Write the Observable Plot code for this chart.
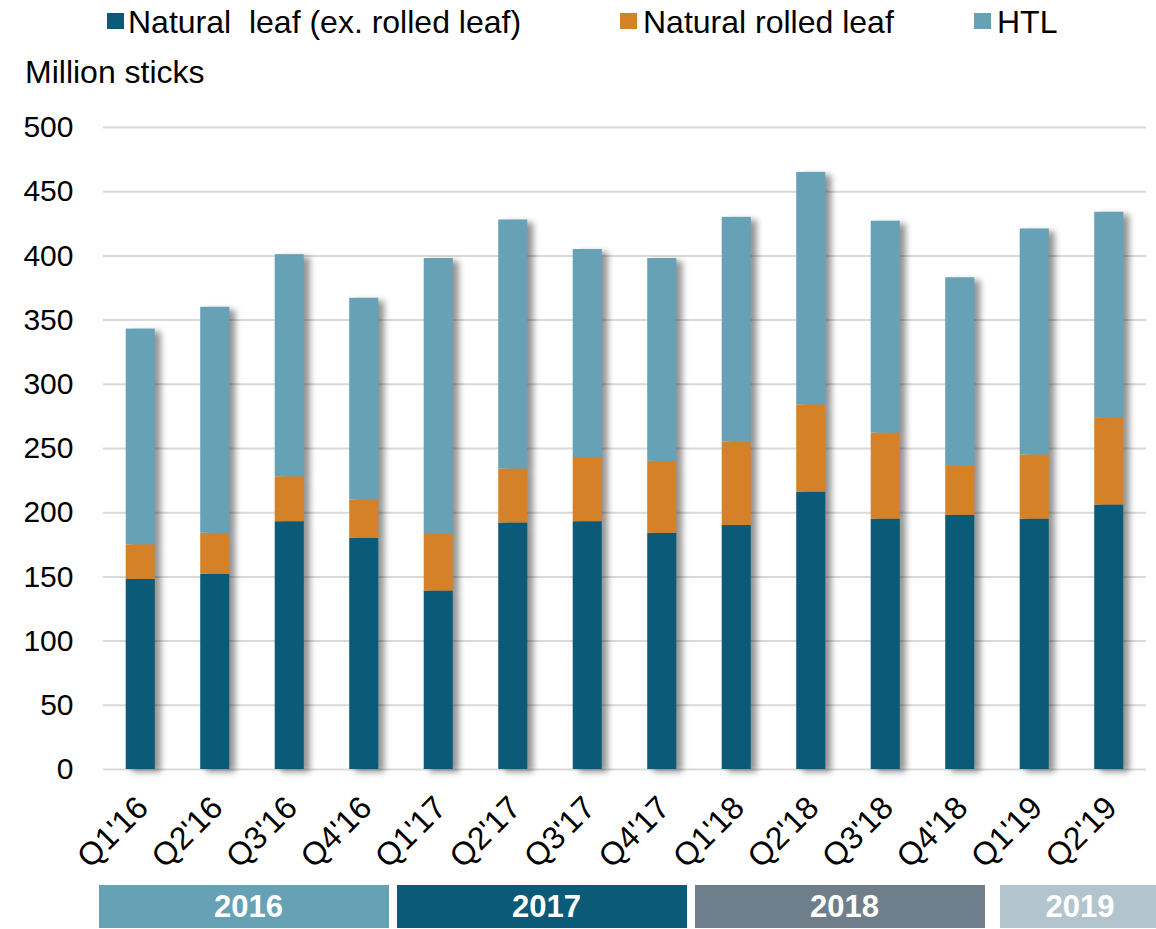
<!DOCTYPE html>
<html>
<head>
<meta charset="utf-8">
<script src="https://cdn.jsdelivr.net/npm/d3@7"></script>
<script src="https://cdn.jsdelivr.net/npm/@observablehq/plot@0.6"></script>
<style>
  html, body { margin: 0; padding: 0; background: #fff; }
  body { width: 1156px; height: 929px; overflow: hidden; font-family: "Liberation Sans", Arial, sans-serif; }
  #head { position: relative; height: 100px; }
  .sw { position: absolute; top: 13px; width: 17px; height: 16px; }
  .lt { position: absolute; top: 7px; font-size: 32px; line-height: 30px; white-space: pre; color: #000; }
  #unit { position: absolute; left: 25px; top: 57px; font-size: 32px; line-height: 30px; color: #000; }
  svg { display: block; }
  g[aria-label="bar"] { filter: drop-shadow(6px 3px 3px rgba(0,0,0,0.42)); }
</style>
</head>
<body>
<div id="head"></div>
<div id="chart"></div>
<div id="years"></div>
<script>
// ---- data ----
const quarters = ["Q1'16","Q2'16","Q3'16","Q4'16","Q1'17","Q2'17","Q3'17","Q4'17","Q1'18","Q2'18","Q3'18","Q4'18","Q1'19","Q2'19"];
const seriesNames = ["Natural  leaf (ex. rolled leaf)", "Natural rolled leaf", "HTL"];
const naturalLeaf = [148, 152, 193, 180, 139, 192, 193, 184, 190, 216, 195, 198, 195, 206];
const naturalRolled = [27, 32, 35, 30, 44, 42, 50, 56, 65, 68, 67, 38, 50, 68];
const htl = [168, 176, 173, 157, 215, 194, 162, 158, 175, 181, 165, 147, 176, 160];
const yTicks = [0, 50, 100, 150, 200, 250, 300, 350, 400, 450, 500];
const years = ["2016", "2017", "2018", "2019"];
const yearFirstQuarter = [0, 4, 8, 12];
const yearQuarterCount = [4, 4, 4, 2];
const yearColors = ["#67a1b5", "#0a5a78", "#6e7f8b", "#b2c5cf"];
const seriesColors = ["#0a5a78", "#d58128", "#67a1b5"];

// ---- header (legend + unit) ----
const head = document.getElementById("head");
const legendPos = [[107, 128], [620, 643], [974, 997]];
seriesNames.forEach((name, i) => {
  const sw = document.createElement("div");
  sw.className = "sw";
  sw.style.left = legendPos[i][0] + "px";
  sw.style.background = seriesColors[i];
  head.appendChild(sw);
  const t = document.createElement("div");
  t.className = "lt";
  t.style.left = legendPos[i][1] + "px";
  t.textContent = name;
  head.appendChild(t);
});
const unit = document.createElement("div");
unit.id = "unit";
unit.textContent = "Million sticks";
head.appendChild(unit);

// ---- tidy table ----
const table = [];
const seriesValues = [naturalLeaf, naturalRolled, htl];
quarters.forEach((q, i) => {
  seriesNames.forEach((s, j) => table.push({quarter: q, series: s, value: seriesValues[j][i]}));
});

const chart = Plot.plot({
  width: 1156,
  height: 769,
  marginTop: 27,
  marginBottom: 100,
  marginLeft: 103,
  marginRight: 10,
  style: {fontSize: "30px", fontFamily: "'Liberation Sans', Arial, sans-serif", color: "#000", background: "transparent", overflow: "visible"},
  x: {domain: quarters, paddingInner: 0.61, paddingOuter: 0.305, round: false, axis: null},
  y: {domain: [0, 500], ticks: yTicks, tickSize: 0, tickPadding: 30, label: null},
  color: {domain: seriesNames, range: seriesColors},
  marks: [
    Plot.ruleY(yTicks, {stroke: "#d9d9d9", strokeWidth: 2}),
    Plot.barY(table, {x: "quarter", y: "value", fill: "series", order: seriesNames}),
    Plot.text(quarters, {x: d => d, y: 0, text: d => d, rotate: -45, textAnchor: "end", lineAnchor: "middle", dy: 33, dx: 2, fontSize: 32, fill: "#000"})
  ]
});
document.getElementById("chart").appendChild(chart);

// ---- year bands ----
const yearTable = years.map((y, i) => ({year: y, x1: yearFirstQuarter[i], x2: yearFirstQuarter[i] + yearQuarterCount[i], color: yearColors[i], full: yearQuarterCount[i] === 4}));
const yearPlot = Plot.plot({
  width: 1156,
  height: 60,
  marginTop: 16,
  marginBottom: 1,
  marginLeft: 103,
  marginRight: 10,
  style: {fontSize: "31px", fontFamily: "'Liberation Sans', Arial, sans-serif", background: "transparent", overflow: "hidden"},
  x: {domain: [0, 14], axis: null},
  y: {domain: [0, 1], axis: null},
  marks: [
    Plot.rect(yearTable.filter(d => d.full), {x1: "x1", x2: "x2", y1: 0, y2: 1, fill: d => d.color, insetLeft: -4, insetRight: 12}),
    Plot.rect(yearTable.filter(d => !d.full), {x1: "x1", x2: "x2", y1: 0, y2: 1, fill: d => d.color, insetLeft: 3, insetRight: -12}),
    Plot.text(yearTable.filter(d => d.full), {x: d => (d.x1 + d.x2) / 2, y: 0.5, dx: -4, text: "year", fill: "#fff", fontWeight: "bold", fontSize: 31}),
    Plot.text(yearTable.filter(d => !d.full), {x: d => (d.x1 + d.x2) / 2, y: 0.5, dx: 8, text: "year", fill: "#fff", fontWeight: "bold", fontSize: 31})
  ]
});
document.getElementById("years").appendChild(yearPlot);
</script>
</body>
</html>
